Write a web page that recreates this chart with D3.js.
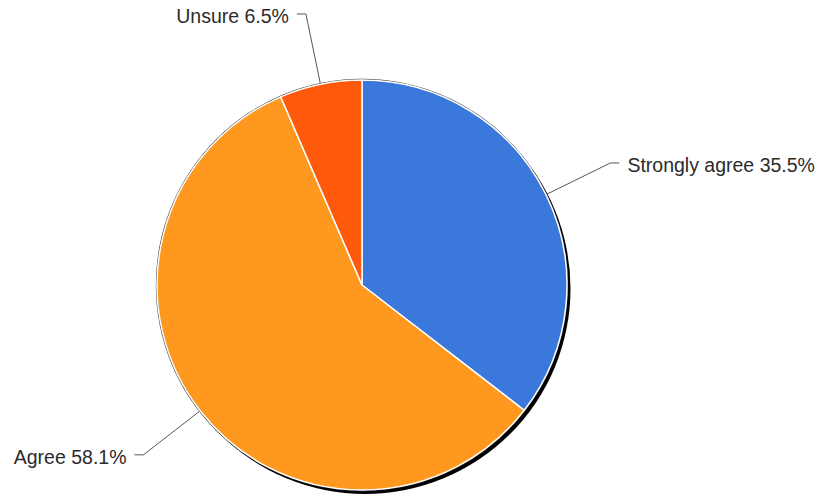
<!DOCTYPE html>
<html>
<head>
<meta charset="utf-8">
<script src="https://cdn.jsdelivr.net/npm/d3@7"></script>
<style>
  html, body { margin: 0; padding: 0; background: #fff; }
  svg { display: block; }
</style>
</head>
<body>
<svg id="chart" width="821" height="495"></svg>
<script>
// Survey responses, clockwise from 12 o'clock
const categories = ["Strongly agree", "Agree", "Unsure"];
const shares = [35.5, 58.1, 6.5];
const sliceColors = ["#3a78db", "#ff981e", "#ff5a0c"];

const width = 821, height = 495;
const cx = 362, cy = 285, R = 205;

const svg = d3.select("#chart");
const defs = svg.append("defs");
defs.append("filter").attr("id", "soft")
  .attr("x", "-10%").attr("y", "-10%").attr("width", "120%").attr("height", "120%")
  .append("feGaussianBlur").attr("stdDeviation", 0.7);

const data = categories.map((c, i) => ({ name: c, value: shares[i], color: sliceColors[i] }));

const pie = d3.pie().value(d => d.value).sort(null);
const arcs = pie(data);
const arc = d3.arc().innerRadius(0).outerRadius(R);

const g = svg.append("g").attr("transform", `translate(${cx},${cy})`);

// drop shadow and thin dark rim behind the pie
g.append("circle").attr("cx", 3).attr("cy", 3.5).attr("r", R + 0.5)
  .attr("fill", "#000").attr("filter", "url(#soft)");
g.append("circle").attr("r", R + 1.2).attr("fill", "#2a2a2a");

g.selectAll("path.slice").data(arcs).join("path")
  .attr("class", "slice")
  .attr("d", arc)
  .attr("fill", d => d.data.color)
  .attr("stroke", "#fff")
  .attr("stroke-width", 1.5)
  .attr("stroke-linejoin", "round");

// leader lines and labels
const fmt = d3.format(".1f");
const lineOuter = R * 1.35;
arcs.forEach(d => {
  const mid = (d.startAngle + d.endAngle) / 2;
  const sx = Math.sin(mid), sy = -Math.cos(mid);
  const p0 = [sx * (R + 1), sy * (R + 1)];
  const p1 = [sx * lineOuter, sy * lineOuter];
  const side = sx >= 0 ? 1 : -1;
  const p2 = [p1[0] + side * 9, p1[1]];
  g.append("polyline")
    .attr("points", [p0, p1, p2].map(p => p.join(",")).join(" "))
    .attr("fill", "none")
    .attr("stroke", "#555")
    .attr("stroke-width", 1);
  g.append("text")
    .attr("x", p2[0] + side * 8)
    .attr("y", p2[1] + 9)
    .attr("text-anchor", side > 0 ? "start" : "end")
    .attr("font-family", "'Liberation Sans', Arial, sans-serif")
    .attr("font-size", 19.5)
    .attr("fill", "#2b2b2b")
    .text(`${d.data.name} ${fmt(d.data.value)}%`);
});
</script>
</body>
</html>
